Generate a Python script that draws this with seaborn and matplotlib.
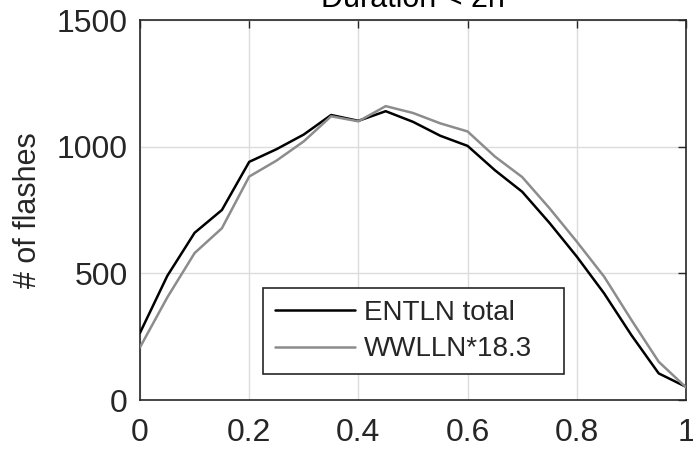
import numpy as np
import pandas as pd
import matplotlib
matplotlib.use("Agg")
import matplotlib.pyplot as plt
from matplotlib.lines import Line2D
import seaborn as sns

# Normalised position within the storm lifetime
position = [0.00, 0.05, 0.10, 0.15, 0.20, 0.25, 0.30, 0.35, 0.40, 0.45, 0.50,
            0.55, 0.60, 0.65, 0.70, 0.75, 0.80, 0.85, 0.90, 0.95, 1.00]
# Flash counts
entln_total = [265, 490, 660, 750, 940, 990, 1048, 1125, 1102, 1140, 1098,
               1043, 1003, 907, 822, 699, 566, 421, 256, 105, 52]
wwlln_scaled = [208, 405, 580, 678, 882, 945, 1021, 1120, 1100, 1160, 1133,
                1092, 1060, 961, 880, 757, 625, 487, 316, 151, 50]

series_names = ["ENTLN total", "WWLLN*18.3"]
x_ticks = [0, 0.2, 0.4, 0.6, 0.8, 1.0]
x_tick_labels = ["0", "0.2", "0.4", "0.6", "0.8", "1"]
y_ticks = [0, 500, 1000, 1500]
title_text = "Duration < 2h"
y_label = "# of flashes"

df = pd.DataFrame({
    "pos": position * 2,
    "flashes": entln_total + wwlln_scaled,
    "series": [series_names[0]] * len(position) + [series_names[1]] * len(position),
})

sns.set_style("white")
plt.rcParams["font.family"] = ["Liberation Sans", "DejaVu Sans"]

fig = plt.figure(figsize=(6.93, 4.54), dpi=100)
ax = fig.add_axes([140 / 693, 1 - 400 / 454, 546 / 693, 380 / 454])

colors = {series_names[0]: "#000000", series_names[1]: "#8c8c8c"}
sns.lineplot(data=df, x="pos", y="flashes", hue="series", palette=colors,
             linewidth=1.8, ax=ax, legend=False, zorder=3)

ax.set_xlim(0, 1)
ax.set_ylim(0, 1500)
ax.set_xticks(x_ticks)
ax.set_xticklabels(x_tick_labels)
ax.set_yticks(y_ticks)
ax.grid(True, color="#dcdcdc", linewidth=1.0, zorder=0)
ax.set_axisbelow(True)
for s in ax.spines.values():
    s.set_color("#262626")
    s.set_linewidth(1.2)
ax.tick_params(direction="in", length=6, width=1.0, color="#262626",
               top=True, right=True, labelsize=23, labelcolor="#262626")
ax.tick_params(axis="x", pad=13)
ax.tick_params(axis="y", pad=9)
ax.set_xlabel("")
ax.set_ylabel(y_label, fontsize=22, color="#262626", labelpad=10)

handles = [Line2D([], [], color=colors[n], lw=1.8) for n in series_names]
leg = ax.legend(handles, series_names, loc="lower left",
                bbox_to_anchor=(0.225, 0.068, 0.552, 0.227), mode="expand",
                fontsize=20, frameon=True, fancybox=False, handlelength=2.9,
                handletextpad=0.32, borderpad=0.42, labelspacing=0.39,
                borderaxespad=0)
leg.get_frame().set_edgecolor("#262626")
leg.get_frame().set_linewidth(1.2)
leg.get_frame().set_alpha(1)

fig.text(413 / 693, 1 - 7 / 454, title_text, ha="center", va="baseline",
         fontsize=22, color="#000000")

fig.savefig("out.png", dpi=100)
